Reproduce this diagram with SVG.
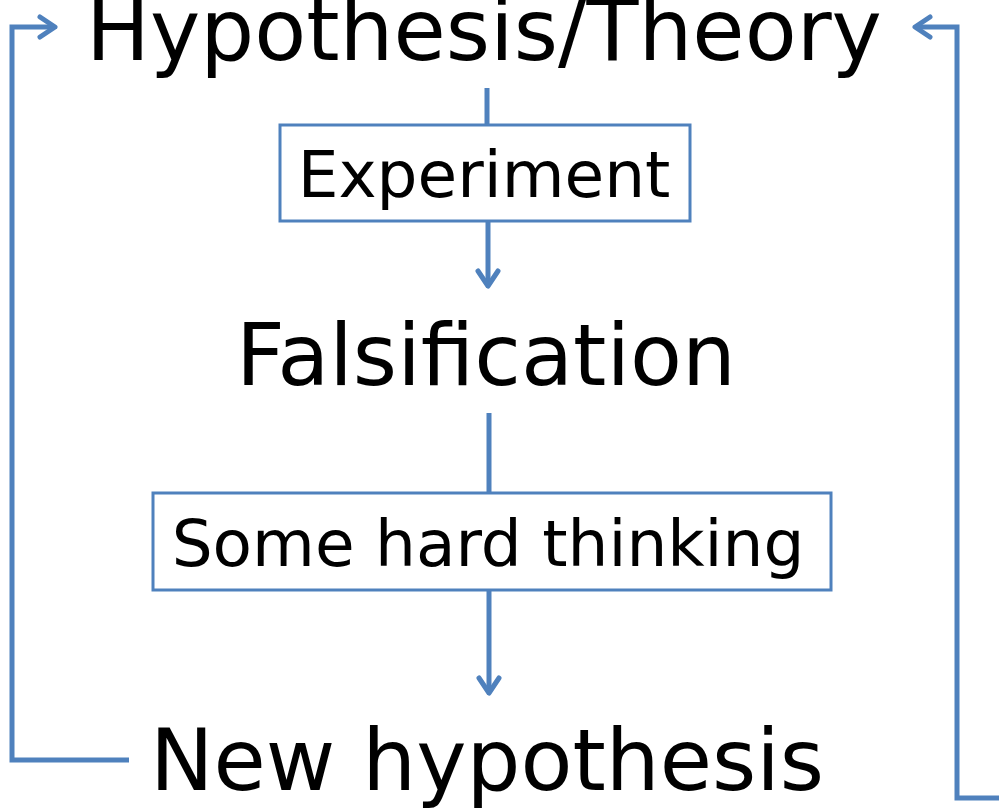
<svg xmlns="http://www.w3.org/2000/svg" width="999" height="808" viewBox="0 0 999 808">
<defs>
<style>
.t{font-family:"DejaVu Sans","Verdana",sans-serif;fill:#000;text-anchor:middle}
.big{font-size:85px}
.mid{font-size:64.5px}
.box{fill:#fff;stroke:#4F81BD;stroke-width:3}
.c{fill:none;stroke:#4F81BD;stroke-width:5;stroke-linejoin:miter}
</style>
<marker id="ah" viewBox="0 0 30 30" refX="23" refY="15" markerWidth="30" markerHeight="30" markerUnits="userSpaceOnUse" orient="auto">
<path d="M8,5 L23,15 L8,25" fill="none" stroke="#4F81BD" stroke-width="5" stroke-linecap="round" stroke-linejoin="round"/>
</marker>
</defs>
<rect width="999" height="808" fill="#fff"/>
<g id="connectors">
<path class="c" d="M487,88 V125"/>
<path class="c" d="M488,222 V286" marker-end="url(#ah)"/>
<path class="c" d="M489,413 V493"/>
<path class="c" d="M489,590 V693" marker-end="url(#ah)"/>
<path class="c" d="M129,760 H12 V27 H55" marker-end="url(#ah)"/>
<path class="c" d="M1002,798 H957 V27 H915" marker-end="url(#ah)"/>
</g>
<g id="hypothesis">
<text class="t big" x="484" y="60">Hypothesis/Theory</text>
</g>
<g id="experiment">
<rect class="box" x="280" y="125" width="410" height="96"/>
<text class="t mid" x="484" y="197">Experiment</text>
</g>
<g id="falsification">
<text class="t big" x="486" y="385">Falsification</text>
</g>
<g id="thinking">
<rect class="box" x="153" y="493" width="678" height="97"/>
<text class="t mid" x="488" y="566">Some hard thinking</text>
</g>
<g id="new-hypothesis">
<text class="t big" x="487" y="790">New hypothesis</text>
</g>
</svg>
